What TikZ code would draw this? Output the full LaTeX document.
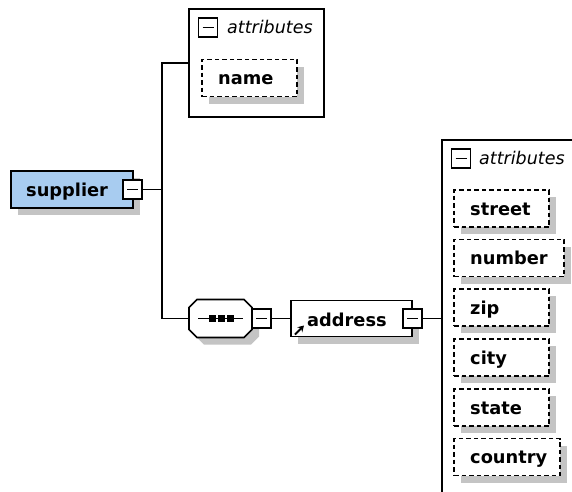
\documentclass[tikz,border=0pt]{standalone}
\usepackage{fontspec}
\setmainfont{DejaVu Sans}
\usetikzlibrary{shadows,arrows.meta}
\definecolor{elemblue}{RGB}{168,204,240}
\definecolor{shadowgrey}{RGB}{196,196,196}
\tikzset{
  box/.style={draw=black, line width=1.6pt, fill=white, rectangle, inner sep=0pt, outer sep=0pt, anchor=north west},
  shadowed/.style={drop shadow={shadow xshift=7pt, shadow yshift=-7pt, fill=shadowgrey, draw=none, opacity=1}},
  attrbox/.style={box, dash pattern=on 4.5pt off 3pt, shadowed, minimum height=37pt},
  toggle/.style={box, anchor=center, minimum width=19pt, minimum height=19pt,
    path picture={\draw[line width=1.5pt]
      ([xshift=4pt]path picture bounding box.west) -- ([xshift=-4pt]path picture bounding box.east);}},
  lbl/.style={inner sep=0pt, anchor=base west, font=\fontsize{17.8}{20}\selectfont\bfseries},
  grouplbl/.style={inner sep=0pt, anchor=base west, font=\fontsize{17.5}{20}\selectfont\itshape},
  wire/.style={draw=black, line width=1.6pt},
}
% outline of the sequence compositor
\newcommand\seqoutline{(197,299.5) -- (244,299.5) -- (252,307.5) -- (252,329.5) -- (244,337.5) -- (197,337.5) -- (189,329.5) -- (189,307.5) -- cycle}
\begin{document}
\begin{tikzpicture}[x=1pt,y=-1pt]
\useasboundingbox (0,0) rectangle (572,491);
\clip (0,0) rectangle (572,491);
\fill[white] (0,0) rectangle (572,491);

% root element
\node[box, fill=elemblue, shadowed, minimum width=122pt, minimum height=37pt] (supplier) at (11,171) {};
\node[lbl] (supplierLbl) at (26,196) {supplier};
\node[toggle] (supplierTgl) at (132.5,189.5) {};
\coordinate (fork) at (162,189.5);

% attributes of supplier
\node[box, minimum width=135pt, minimum height=108pt] (attrTop) at (189,9) {};
\node[toggle] (attrTopTgl) at (208,27.5) {};
\node[grouplbl] (attrTopLbl) at (227,33) {attributes};
\node[attrbox, minimum width=95pt] (nameBox) at (202,59.5) {};
\node[lbl] (nameLbl) at (218,84) {name};

% sequence compositor
\node[inner sep=0pt, outer sep=0pt, minimum width=63pt, minimum height=38pt, anchor=north west] (seq) at (189,299.5) {};
\fill[shadowgrey, shift={(7,7)}] \seqoutline;
\draw[wire, fill=white] \seqoutline;
\draw[wire] (198,318.5) -- (243,318.5);
\fill (209,315) rectangle ++(7,7);
\fill (218,315) rectangle ++(7,7);
\fill (227,315) rectangle ++(7,7);
\node[toggle] (seqTgl) at (261.5,318.5) {};

% address element
\node[box, shadowed, minimum width=121pt, minimum height=36pt] (address) at (291,300.5) {};
\node[lbl] (addressLbl) at (307,326) {address};
\draw[line width=2pt, -{Stealth[length=6pt,width=7pt]}] (295,334.5) -- (304,325.5);
\node[toggle] (addressTgl) at (412.5,318.5) {};

% attributes of address
\node[box, minimum width=160pt, minimum height=380pt] (attrRight) at (442,140) {};
\node[toggle] (attrRightTgl) at (461,158.5) {};
\node[grouplbl] (attrRightLbl) at (479,164) {attributes};

\node[attrbox, minimum width=95pt]  (streetBox)  at (454,190) {};
\node[lbl] (streetLbl) at (470,215) {street};
\node[attrbox, minimum width=110pt] (numberBox)  at (454,239.5) {};
\node[lbl] (numberLbl) at (470,264.5) {number};
\node[attrbox, minimum width=95pt]  (zipBox)     at (454,289) {};
\node[lbl] (zipLbl) at (470,314) {zip};
\node[attrbox, minimum width=95pt]  (cityBox)    at (454,339) {};
\node[lbl] (cityLbl) at (470,364) {city};
\node[attrbox, minimum width=95pt]  (stateBox)   at (454,389) {};
\node[lbl] (stateLbl) at (470,414) {state};
\node[attrbox, minimum width=106pt] (countryBox) at (454,438.5) {};
\node[lbl] (countryLbl) at (470,463.5) {country};

% connectors
\draw[wire] (supplierTgl.east) -- (fork);
\draw[wire] (attrTop.west) -| (fork) |- (seq.west);
\draw[wire] (seqTgl.east) -- (address.west);
\draw[wire] (addressTgl.east) -- (addressTgl.east -| attrRight.west);
\end{tikzpicture}
\end{document}
